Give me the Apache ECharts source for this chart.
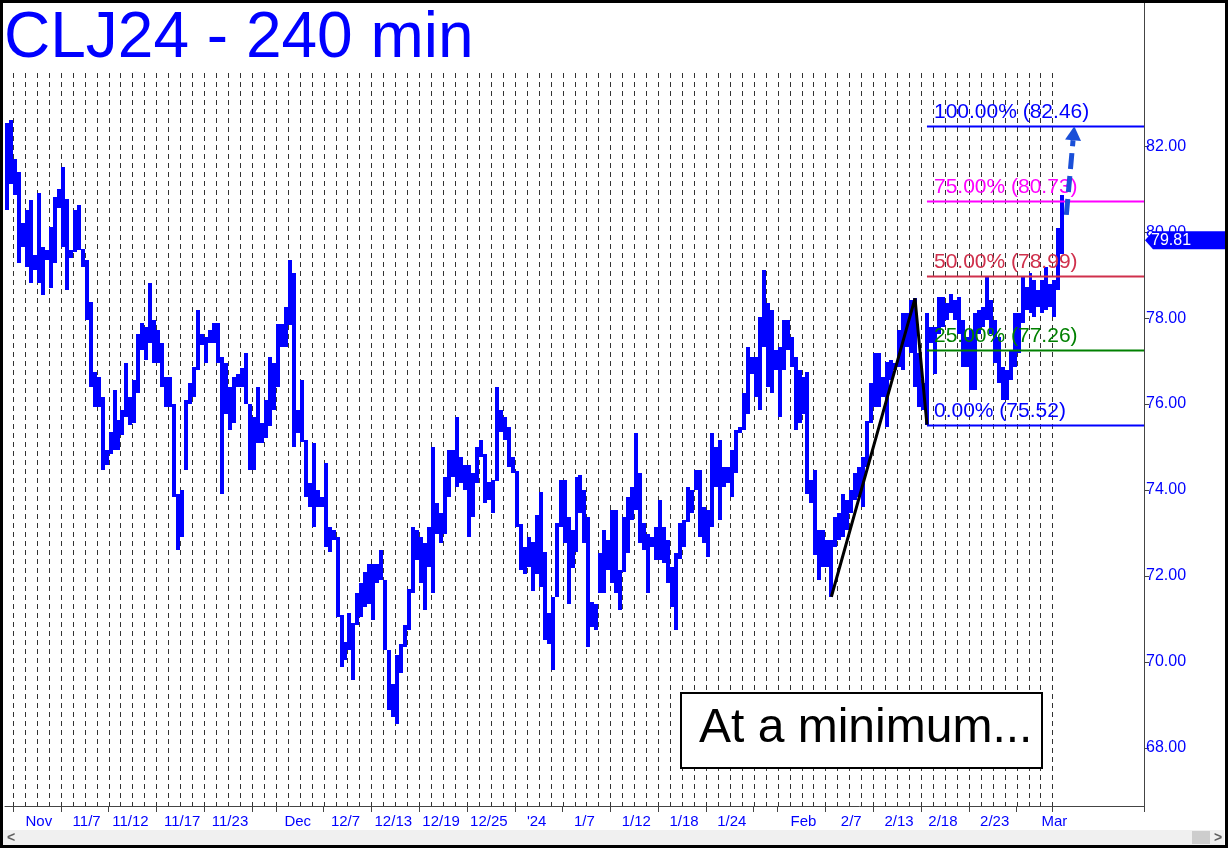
<!DOCTYPE html>
<html><head><meta charset="utf-8">
<script src="https://cdn.jsdelivr.net/npm/echarts@6/dist/echarts.min.js"></script>
<style>html,body{margin:0;padding:0;background:#fff;}#c{width:1228px;height:848px;}</style>
</head><body><div id="c"></div><script>
// ---- data (240-min bars, high/low) ----
const highs = [82.53,82.60,81.71,81.40,80.20,80.51,80.74,79.46,80.90,79.66,79.58,80.12,80.82,81.01,81.52,80.78,79.58,80.51,80.63,79.60,
79.35,78.38,76.75,76.63,76.17,74.93,75.36,76.33,75.63,75.86,76.95,76.17,76.56,77.64,77.88,77.80,78.81,77.95,77.72,77.41,
76.63,76.63,76.01,73.90,74.00,76.09,76.48,76.87,78.19,77.64,77.56,77.72,77.88,77.88,77.10,76.95,76.40,76.64,76.71,76.83,
77.18,76.01,75.70,76.40,75.55,76.10,77.10,76.95,77.87,77.87,78.26,79.36,79.04,75.86,76.56,75.16,74.16,75.09,74.00,73.84,
74.62,73.15,73.07,72.90,71.10,70.47,71.13,70.90,71.60,71.83,72.10,72.29,72.29,72.29,72.60,71.91,70.28,69.50,70.16,70.43,
70.86,71.71,73.15,73.07,72.91,72.76,73.15,75.01,73.69,73.46,74.31,74.93,74.93,75.71,74.77,74.58,74.58,74.39,75.01,75.16,
74.85,74.19,74.23,76.40,75.86,75.71,75.47,74.77,74.45,73.20,72.68,72.91,72.80,73.42,73.96,72.57,71.13,71.52,73.23,74.23,
74.23,73.38,73.07,74.31,74.35,74.00,73.38,71.40,71.36,72.53,73.07,72.84,73.53,73.53,72.14,73.38,73.85,74.08,75.32,74.39,
73.23,72.99,72.91,73.15,73.77,73.15,72.84,72.22,72.53,73.23,73.30,74.08,74.00,74.47,74.47,73.61,73.53,75.32,75.01,75.16,
74.54,74.54,74.93,75.39,75.47,76.25,77.33,77.10,77.10,78.03,79.12,78.34,78.19,77.26,77.33,77.95,77.95,77.57,77.10,76.79,
76.64,76.75,74.23,74.46,73.07,73.07,72.84,72.84,73.38,73.46,73.92,73.77,74.00,74.39,74.54,74.77,75.60,76.48,77.18,77.18,
76.64,76.98,77.02,76.95,77.72,78.11,78.11,78.42,78.46,77.18,76.48,78.11,77.80,77.80,78.50,78.50,78.34,78.57,78.42,78.50,
77.95,77.57,77.72,78.11,78.19,78.26,78.96,78.42,77.95,77.57,76.87,76.79,77.26,78.11,78.11,78.96,78.73,79.04,78.88,78.65,
78.88,79.19,78.80,78.88,80.10,80.86];
const lows = [80.51,81.13,80.86,79.27,79.66,79.19,78.81,79.12,78.81,78.53,79.35,78.69,79.27,80.55,79.66,78.65,79.39,79.54,79.58,79.19,
77.95,76.40,75.94,75.94,74.46,74.58,74.85,74.93,74.93,75.28,75.71,75.51,75.55,76.25,77.26,77.02,77.41,76.95,76.95,76.40,
75.94,75.94,73.84,72.60,72.90,74.46,76.00,76.17,76.80,77.37,76.95,77.41,77.41,76.95,73.92,75.78,75.40,75.55,76.40,76.40,
76.01,74.46,74.46,75.09,75.09,75.20,75.50,75.86,76.40,77.33,77.33,77.84,75.01,75.32,75.12,73.84,73.61,73.15,73.61,73.61,
72.68,72.57,72.84,71.05,69.89,70.05,70.28,69.58,70.86,71.05,71.29,71.36,70.98,71.83,71.91,70.28,68.88,68.73,68.57,69.74,
70.36,70.74,71.60,72.37,71.83,71.21,72.22,71.60,72.99,72.76,72.99,73.84,74.31,74.08,74.16,74.00,72.91,73.38,74.16,74.77,
73.69,73.77,73.46,74.20,75.36,75.16,74.54,74.39,73.15,72.14,72.06,72.22,71.65,72.06,71.75,70.51,70.43,69.81,71.52,73.15,
72.76,71.36,72.18,72.57,73.46,72.76,70.36,70.82,70.74,71.60,71.60,72.14,71.83,71.60,71.21,72.10,72.53,73.30,73.53,72.76,
72.60,71.60,72.68,72.37,72.37,72.30,71.83,71.29,70.74,72.40,72.68,73.25,73.46,74.00,72.92,72.76,72.45,73.15,74.08,73.30,
74.08,74.16,73.85,74.39,75.32,75.39,75.78,76.71,76.17,75.86,77.33,76.40,76.25,76.79,75.71,76.79,77.26,76.87,75.40,75.55,
75.78,73.92,73.69,72.50,71.91,72.22,72.22,71.52,72.68,72.84,72.91,73.07,73.46,73.77,73.85,73.61,74.54,75.55,75.94,75.94,
76.17,75.47,76.56,76.79,76.87,76.79,77.33,77.18,76.40,75.94,75.86,75.52,77.41,76.71,77.64,77.80,77.95,78.11,77.95,77.64,
76.87,76.87,76.33,76.33,77.64,77.80,77.95,77.64,76.95,76.48,76.09,76.09,76.56,76.87,77.18,77.88,78.19,78.11,78.03,78.26,
78.11,78.19,78.26,78.03,78.65,79.50];
const slotCount = 286;                       // bar slots on the axis (incl. empty right margin)
const dayStartBars = [2,5,8,11,14,17,20,23,26,29,32,35,38,41,44,47,50,53,56,59,62,65,68,71,74,77,80,83,86,89,92,95,98,101,104,107,110,113,116,119,122,125,128,131,134,137,140,143,146,149,152,155,158,161,164,167,170,173,176,179,182,185,188,191,194,197,200,203,206,209,212,215,218,221,224,227,230,233,236,239,242,245,248,251,254,257,260,263];
const labelBars = [8,20,31,44,56,73,85,97,109,121,133,145,158,170,182,200,212,224,235,248,263];
const labelTexts = ['Nov','11/7','11/12','11/17','11/23','Dec','12/7','12/13','12/19','12/25',"'24",'1/7','1/12','1/18','1/24','Feb','2/7','2/13','2/18','2/23','Mar'];
const tickBars = [2,14,26,38,50,62,68,80,92,104,116,128,140,152,164,176,188,194,206,218,230,242,254,263];
const yTickValues = [68,70,72,74,76,78,80,82];
const swingPoints = [[207,71.52],[228,78.46],[231,75.52]];
const fibStartBar = 231;
const fibPcts = [0,25,50,75,100];
const fibLevels = [75.52,77.26,78.99,80.73,82.46];
const fibColors = ['#0000ff','#008000','#d0304c','#ff00ff','#0000ff'];
const lastPrice = 79.81;
const targetArrow = [[266,80.40],[268,82.46]];

const FONT = '"Liberation Sans", Arial, sans-serif';
const categories = Array.from({length: slotCount}, (_, i) => String(i));
const labelMap = new Map(labelBars.map((b, k) => [b, labelTexts[k]]));
const tickSet = new Set(tickBars);

const chart = echarts.init(document.getElementById('c'), null, {renderer: 'canvas'});
chart.setOption({
  animation: false,
  backgroundColor: '#ffffff',
  grid: {left: 5, right: 84, top: 3, bottom: 42, containLabel: false},
  xAxis: {
    type: 'category', data: categories, boundaryGap: true,
    axisLine: {show: true, lineStyle: {color: '#444', width: 1}},
    axisTick: {show: true, length: 6, interval: (i) => tickSet.has(i), lineStyle: {color: '#444'}},
    axisLabel: {show: true, interval: (i) => labelMap.has(i), formatter: (v, i) => labelMap.get(+v) || '',
      color: '#0000ff', fontSize: 15, fontFamily: FONT, margin: 8},
    splitLine: {show: false}
  },
  yAxis: {
    type: 'value', position: 'right', min: 66.653, max: 85.328, scale: true,
    axisLine: {show: true, lineStyle: {color: '#444', width: 1}},
    axisTick: {show: true, length: 5, customValues: yTickValues, lineStyle: {color: '#444'}},
    axisLabel: {show: true, customValues: yTickValues, formatter: (v) => v.toFixed(2),
      color: '#0000ff', fontSize: 16, fontFamily: FONT, margin: 2},
    splitLine: {show: false}
  },
  series: [
    { // daily dashed separators
      type: 'custom', z: 1, silent: true, clip: false,
      data: dayStartBars.map(b => [b]),
      encode: {x: 0},
      renderItem: (params, api) => {
        const w = api.size([1, 0])[0];
        const x = Math.round(api.coord([api.value(0), 70])[0] - w / 2) + 0.5;
        const cs = params.coordSys;
        return {type: 'line', shape: {x1: x, y1: 73, x2: x, y2: cs.y + cs.height},
          style: {stroke: '#333', lineWidth: 1, lineDash: [5, 4]}};
      }
    },
    { // price bars
      type: 'custom', z: 3, silent: true,
      data: highs.map((h, i) => [i, lows[i], h]),
      encode: {x: 0, y: [1, 2]},
      renderItem: (params, api) => {
        const i = api.value(0);
        const lo = api.coord([i, api.value(1)]);
        const hi = api.coord([i, api.value(2)]);
        const w = api.size([1, 0])[0];
        const x0 = Math.round(lo[0] - w / 2), x1 = Math.round(lo[0] + w / 2);
        const y0 = Math.round(hi[1]), y1 = Math.round(lo[1]);
        return {type: 'rect', shape: {x: x0, y: y0, width: x1 - x0, height: Math.max(1, y1 - y0)},
          style: {fill: '#0000ff'}};
      }
    },
    { // fib projection levels
      type: 'custom', z: 4, silent: true, clip: false,
      data: fibLevels.map((lv, k) => [fibStartBar, lv, k]),
      encode: {x: 0, y: 1},
      renderItem: (params, api) => {
        const k = api.value(2);
        const p = api.coord([api.value(0), api.value(1)]);
        const cs = params.coordSys;
        const col = fibColors[k];
        const y = Math.round(p[1]) + 0.5;
        return {type: 'group', children: [
          {type: 'line', shape: {x1: p[0], y1: y, x2: cs.x + cs.width, y2: y}, style: {stroke: col, lineWidth: 2}},
          {type: 'text', x: p[0] + 7, y: y - 14, style: {text: fibPcts[k].toFixed(2) + '% (' + fibLevels[k].toFixed(2) + ')',
            fill: col, font: '21px ' + FONT, verticalAlign: 'middle', align: 'left'}}
        ]};
      }
    },
    { // ABC swing
      type: 'line', z: 5, silent: true, data: swingPoints, symbol: 'none',
      lineStyle: {color: '#000', width: 3}
    },
    { // dashed target arrow
      type: 'custom', z: 6, silent: true, clip: false,
      data: [[targetArrow[0][0], targetArrow[0][1], targetArrow[1][0], targetArrow[1][1]]],
      encode: {x: [0, 2], y: [1, 3]},
      renderItem: (params, api) => {
        const a = api.coord([api.value(0), api.value(1)]);
        const b = api.coord([api.value(2), api.value(3)]);
        const dx = b[0] - a[0], dy = b[1] - a[1];
        const L = Math.hypot(dx, dy), ux = dx / L, uy = dy / L;
        const hl = 14, hw = 8;
        const bx = b[0] - ux * hl, by = b[1] - uy * hl;
        return {type: 'group', children: [
          {type: 'line', shape: {x1: a[0], y1: a[1], x2: bx, y2: by},
            style: {stroke: '#1a4fd8', lineWidth: 5, lineDash: [16, 7]}},
          {type: 'polygon', shape: {points: [[b[0], b[1]], [bx - uy * hw, by + ux * hw], [bx + uy * hw, by - ux * hw]]},
            style: {fill: '#1a4fd8'}}
        ]};
      }
    },
    { // last price marker on the axis
      type: 'custom', z: 7, silent: true, clip: false,
      data: [[0, lastPrice]],
      encode: {y: 1},
      renderItem: (params, api) => {
        const y = api.coord([0, api.value(1)])[1];
        const cs = params.coordSys;
        const x0 = cs.x + cs.width + 1;
        return {type: 'group', children: [
          {type: 'polygon', shape: {points: [[x0, y], [x0 + 8, y - 9], [x0 + 80, y - 9], [x0 + 80, y + 9], [x0 + 8, y + 9]]},
            style: {fill: '#0000ff'}},
          {type: 'text', x: x0 + 6, y: y, style: {text: api.value(1).toFixed(2), fill: '#fff',
            font: '16px ' + FONT, verticalAlign: 'middle', align: 'left'}}
        ]};
      }
    }
  ],
  graphic: [
    {type: 'text', z: 100, x: 4, y: 39, style: {text: 'CLJ24 - 240 min', fill: '#0000ff', font: '64px ' + FONT, verticalAlign: 'middle'}},
    {type: 'rect', z: 100, shape: {x: 681, y: 693, width: 361, height: 75}, style: {fill: '#fff', stroke: '#000', lineWidth: 2}},
    {type: 'text', z: 101, x: 699, y: 729, style: {text: 'At a minimum...', fill: '#000', font: '48px ' + FONT, verticalAlign: 'middle'}},
    {type: 'rect', z: 100, shape: {x: 3, y: 830, width: 1221, height: 15}, style: {fill: '#f0f0f0'}},
    {type: 'rect', z: 101, shape: {x: 1192, y: 831, width: 18, height: 13}, style: {fill: '#cdcdcd'}},
    {type: 'text', z: 101, x: 7, y: 838, style: {text: '<', fill: '#606060', font: 'bold 14px ' + FONT, verticalAlign: 'middle'}},
    {type: 'text', z: 101, x: 1214, y: 838, style: {text: '>', fill: '#606060', font: 'bold 14px ' + FONT, verticalAlign: 'middle'}},
    {type: 'rect', z: 102, shape: {x: 1.5, y: 1.5, width: 1225, height: 845}, style: {fill: 'none', stroke: '#000', lineWidth: 3}}
  ]
});
</script></body></html>
